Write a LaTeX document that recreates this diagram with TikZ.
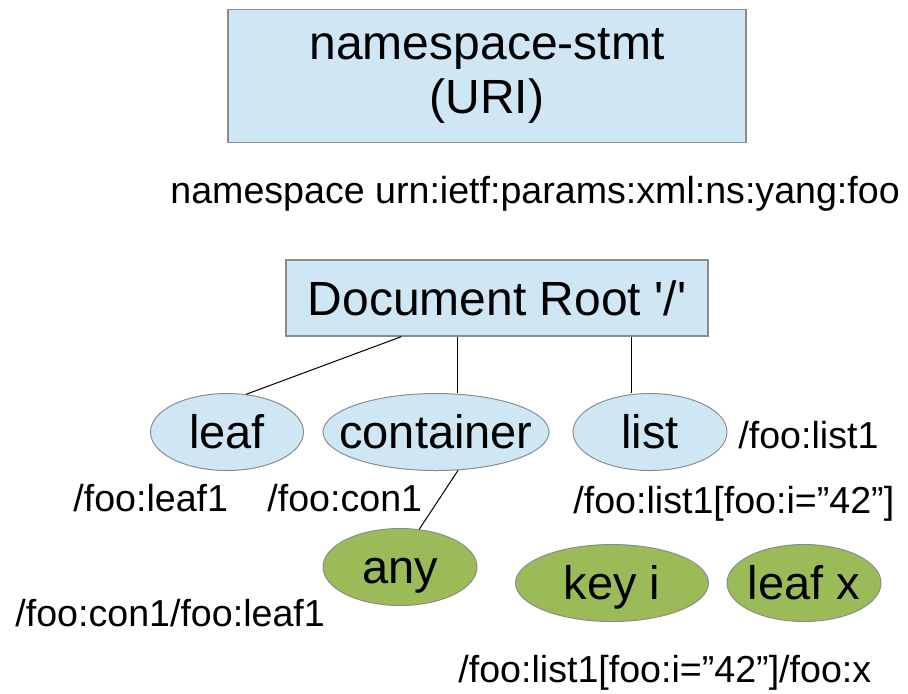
\documentclass[tikz,border=0pt]{standalone}
\usepackage{fontspec}
\setmainfont{Liberation Sans}
\usetikzlibrary{shapes.geometric}
\definecolor{boxblue}{HTML}{CFE7F5}
\definecolor{nodegreen}{HTML}{9BBB59}
\definecolor{edgegray}{HTML}{8C8C8C}
\tikzset{
  box/.style={draw=edgegray,fill=boxblue,line width=0.6pt,inner sep=0pt,font=\fontsize{24}{27}\selectfont},
  ell/.style={ellipse,draw=edgegray,line width=0.5pt,inner sep=0pt,text height=16pt,text depth=0pt,font=\fontsize{23.5}{26}\selectfont},
  blue/.style={ell,fill=boxblue},
  green/.style={ell,fill=nodegreen},
  path/.style={anchor=base west,inner sep=0pt,font=\fontsize{18.8}{21}\selectfont}
}
\begin{document}
\begin{tikzpicture}[x=0.5pt,y=-0.5pt]
\useasboundingbox (0,0) rectangle (908,693);
\node[box,minimum width=259pt,minimum height=66.5pt,align=center] (ns) at (487,76) {namespace-stmt\\(URI)};
\node[path] (nsuri) at (170,203) {namespace urn:ietf:params:xml:ns:yang:foo};
\node[box,minimum width=211pt,minimum height=38pt] (root) at (497,298) {Document Root \textquotesingle/\textquotesingle};
\node[blue,minimum width=76.5pt,minimum height=38.5pt] (leaf) at (227,432) {\makebox[0pt]{leaf}};
\node[blue,minimum width=113pt,minimum height=38.5pt] (container) at (436,432) {\makebox[0pt]{container}};
\node[blue,minimum width=77pt,minimum height=38.5pt] (list) at (650,432) {\makebox[0pt]{list}};
\node[green,minimum width=77pt,minimum height=38.5pt] (any) at (400,567) {\makebox[0pt]{any}};
\node[green,minimum width=96.5pt,minimum height=38.5pt] (keyi) at (612,583) {\makebox[0pt]{key i}};
\node[green,minimum width=77pt,minimum height=38.5pt] (leafx) at (804,583) {\makebox[0pt]{leaf x}};
\node[path] (listpath) at (738,448) {/foo:list1};
\node[path] (leafpath) at (73,511) {/foo:leaf1};
\node[path] (conpath) at (267,511) {/foo:con1};
\node[path] (keypath) at (573,513) {/foo:list1[foo:i=”42”]};
\node[path] (anypath) at (15,626) {/foo:con1/foo:leaf1};
\node[path] (xpath) at (458,682) {/foo:list1[foo:i=”42”]/foo:x};
\draw[line width=0.5pt] (root.202) -- (leaf.63);
\draw[line width=0.5pt] (root.224) -- (root.224 |- container.north);
\draw[line width=0.5pt] (root.344) -- (root.344 |- list.north);
\draw[line width=0.5pt] (container.300) -- (any.63);
\end{tikzpicture}
\end{document}
